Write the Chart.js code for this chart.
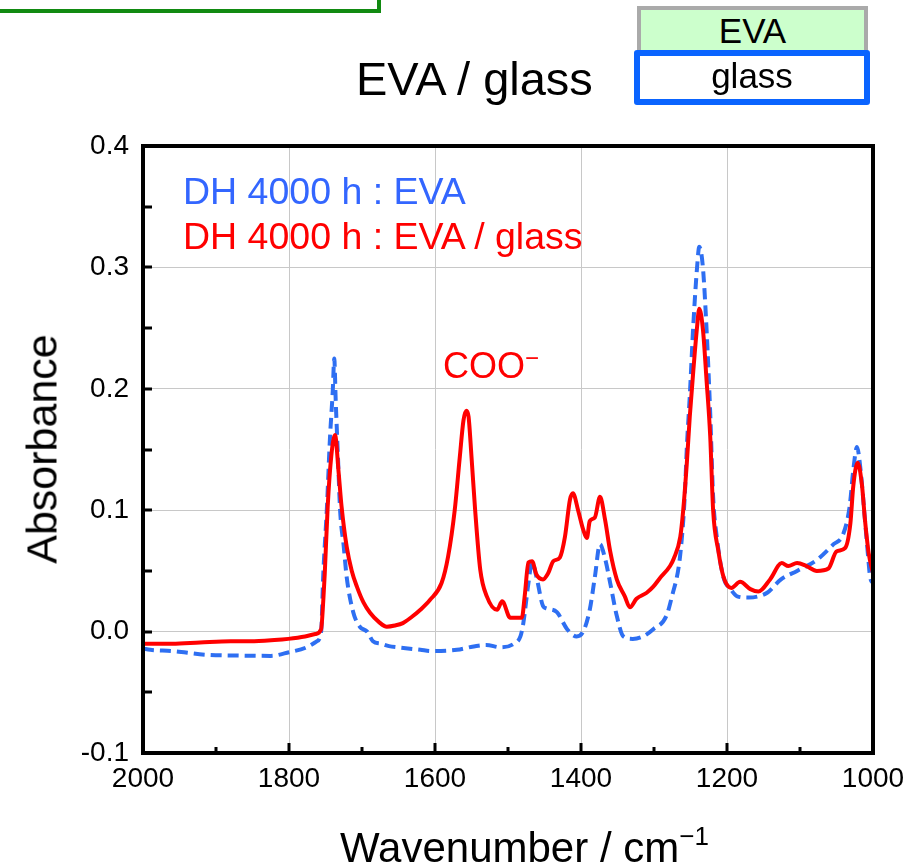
<!DOCTYPE html>
<html><head><meta charset="utf-8">
<script src="https://cdn.jsdelivr.net/npm/chart.js@4.4.1/dist/chart.umd.min.js"></script>
<style>
html,body{margin:0;padding:0;background:#fff;overflow:hidden}
#wrap{position:relative;width:918px;height:868px;font-family:"Liberation Sans",Arial,Helvetica,sans-serif;color:#000}
canvas{position:absolute;left:0;top:0}
.t{position:absolute;white-space:nowrap;line-height:1}
#greenbox{position:absolute;left:-10px;top:-10px;width:383px;height:15px;border:4px solid #118a11;background:#fff}
#evabox{position:absolute;left:637px;top:6px;width:223px;height:44px;border:4px solid #aaaaaa;border-bottom:none;background:#ccffcc;text-align:center;font-size:35px;line-height:42px}
#glassbox{position:absolute;left:634px;top:50px;width:224px;height:43px;border:6px solid #0a64ff;border-radius:3px;background:#fff;text-align:center;font-size:35px;line-height:40px}
</style></head><body>
<div id="wrap">
<canvas id="c" width="918" height="868"></canvas>
<div id="greenbox"></div>
<div id="evabox">EVA</div>
<div id="glassbox">glass</div>
<div class="t" style="left:356px;top:55px;font-size:47px">EVA / glass</div>
<div class="t" style="left:183px;top:173px;font-size:37.5px;color:#3366ff">DH 4000 h : EVA</div>
<div class="t" style="left:183px;top:218px;font-size:37.5px;color:#ff0000">DH 4000 h : EVA / glass</div>
<div class="t" style="left:443px;top:348px;font-size:36px;color:#ff0000">COO<span style="font-size:24px;position:relative;top:-12px">−</span></div>
<div class="t" style="left:42px;top:449px;font-size:43px;transform:translate(-50%,-50%) rotate(-90deg)">Absorbance</div>
<div class="t" style="left:340px;top:827px;font-size:42px">Wavenumber / cm<span style="font-size:26px;position:relative;top:-17px">−1</span></div>
</div>
<script>
// ---- data ----
const glassWn = [2000,1960,1922,1880,1853,1820,1801,1778,1764,1756,1753,1751,1747,1742,1737,1732,1728,1721,1714,1707,1698,1689,1677,1666,1655,1644,1632,1620,1607,1591,1582,1573,1566,1561,1557,1554,1550,1545,1538,1529,1515,1508,1497,1481,1477,1472,1467,1461,1452,1445,1438,1429,1422,1415,1411,1404,1397,1392,1388,1381,1374,1367,1360,1351,1340,1333,1324,1310,1301,1292,1278,1273,1264,1260,1255,1251,1246,1241,1238,1233,1228,1223,1219,1212,1205,1194,1182,1168,1157,1141,1125,1116,1104,1091,1077,1061,1050,1038,1031,1027,1021,1015,1011,1006,1000];
const glassAbs = [-0.010,-0.010,-0.009,-0.008,-0.008,-0.007,-0.006,-0.004,-0.002,0.002,0.026,0.048,0.103,0.145,0.162,0.131,0.103,0.070,0.050,0.037,0.024,0.0155,0.008,0.004,0.005,0.007,0.012,0.018,0.026,0.040,0.062,0.100,0.144,0.174,0.182,0.177,0.144,0.100,0.051,0.029,0.018,0.025,0.0115,0.0115,0.030,0.057,0.058,0.047,0.043,0.048,0.058,0.061,0.078,0.109,0.114,0.100,0.084,0.077,0.091,0.094,0.111,0.092,0.066,0.043,0.029,0.020,0.027,0.032,0.037,0.044,0.054,0.060,0.078,0.100,0.139,0.177,0.216,0.251,0.266,0.249,0.207,0.161,0.100,0.067,0.0455,0.036,0.041,0.035,0.033,0.043,0.0565,0.054,0.0565,0.054,0.050,0.052,0.066,0.069,0.089,0.120,0.139,0.120,0.092,0.065,0.048];

const evaWn = [2000,1990,1960,1915,1870,1825,1800,1776,1762,1756,1753,1748,1744,1740,1738,1736,1733,1730,1725,1721,1712,1703,1693,1685,1674,1663,1651,1620,1605,1570,1545,1530,1510,1492,1483,1479,1472,1467,1461,1452,1447,1433,1419,1406,1397,1388,1381,1374,1367,1360,1351,1342,1329,1315,1301,1283,1275,1266,1262,1258,1255,1251,1246,1241,1238,1233,1228,1223,1219,1214,1205,1195,1186,1170,1157,1145,1126,1104,1077,1054,1041,1032,1027,1022,1017,1011,1006,1004,1000];
const evaAbs = [-0.014,-0.015,-0.016,-0.019,-0.0197,-0.020,-0.017,-0.013,-0.008,0.000,0.048,0.103,0.158,0.199,0.225,0.190,0.145,0.100,0.070,0.045,0.016,0.004,0.000,-0.008,-0.010,-0.012,-0.013,-0.015,-0.016,-0.015,-0.012,-0.011,-0.013,-0.010,-0.004,0.007,0.040,0.057,0.045,0.021,0.019,0.016,0.002,-0.004,0.000,0.018,0.045,0.072,0.060,0.040,0.013,-0.004,-0.006,-0.004,0.002,0.013,0.030,0.054,0.076,0.110,0.152,0.194,0.254,0.300,0.317,0.300,0.249,0.180,0.111,0.078,0.045,0.035,0.029,0.028,0.029,0.032,0.043,0.050,0.059,0.072,0.080,0.103,0.133,0.152,0.133,0.092,0.057,0.045,0.040];

const xMajorTicks = [2000,1800,1600,1400,1200,1000];
const xMinorTicks = [1900,1700,1500,1300,1100];
const yTickMarks = [-0.05,0,0.05,0.1,0.15,0.2,0.25,0.3,0.35];

const toPts = (xs, ys) => xs.map((x, i) => ({x: x, y: ys[i]}));

const framePlugin = {
  id: 'frame',
  afterDraw(chart) {
    const {ctx, chartArea: a, scales} = chart;
    const x = scales.x, y = scales.y;
    ctx.save();
    ctx.strokeStyle = '#000';
    ctx.lineWidth = 3;
    ctx.beginPath();
    yTickMarks.forEach(v => { const py = Math.round(y.getPixelForValue(v)); ctx.moveTo(a.left, py); ctx.lineTo(a.left + 9, py); });
    xMajorTicks.forEach(v => { const px = Math.round(x.getPixelForValue(v)); ctx.moveTo(px, a.bottom); ctx.lineTo(px, a.bottom - 10); });
    xMinorTicks.forEach(v => { const px = Math.round(x.getPixelForValue(v)); ctx.moveTo(px, a.bottom); ctx.lineTo(px, a.bottom - 6); });
    ctx.stroke();
    ctx.lineWidth = 4;
    ctx.strokeRect(a.left, a.top, a.right - a.left, a.bottom - a.top);
    ctx.restore();
  }
};

const tickFont = {family: '"Liberation Sans", Arial, sans-serif', size: 28};

new Chart(document.getElementById('c'), {
  type: 'line',
  data: {
    datasets: [
      {label: 'DH 4000 h : EVA / glass', data: toPts(glassWn, glassAbs), borderColor: '#ff0000', borderWidth: 4, pointRadius: 0, cubicInterpolationMode: 'monotone', order: 0},
      {label: 'DH 4000 h : EVA', data: toPts(evaWn, evaAbs), borderColor: '#2e6ff2', borderWidth: 4, borderDash: [11, 6], pointRadius: 0, cubicInterpolationMode: 'monotone', order: 1}
    ]
  },
  options: {
    responsive: false,
    animation: false,
    devicePixelRatio: 1,
    layout: {padding: {top: 146, right: 45, left: 0, bottom: 0}},
    plugins: {legend: {display: false}, tooltip: {enabled: false}},
    scales: {
      x: {
        type: 'linear', min: 1000, max: 2000, reverse: true,
        afterFit: s => { s.height = 115; },
        ticks: {stepSize: 200, color: '#000', font: tickFont, padding: 9, maxRotation: 0, callback: v => String(v)},
        grid: {color: '#c8c8c8', lineWidth: 1, drawTicks: false},
        border: {display: false}
      },
      y: {
        min: -0.1, max: 0.4,
        afterFit: s => { s.width = 143; },
        ticks: {stepSize: 0.1, color: '#000', font: tickFont, padding: 14, callback: v => Number(v).toFixed(1)},
        grid: {color: '#c8c8c8', lineWidth: 1, drawTicks: false},
        border: {display: false}
      }
    }
  },
  plugins: [framePlugin]
});
</script>
</body></html>
